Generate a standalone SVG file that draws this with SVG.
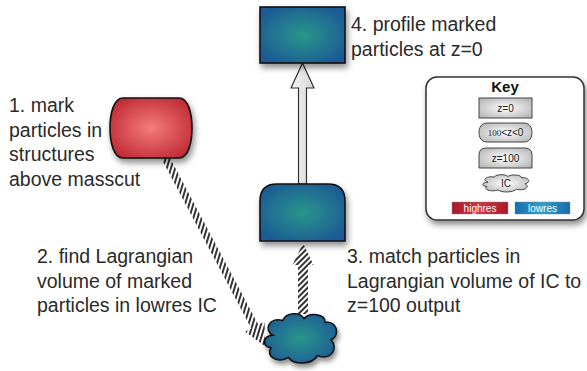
<svg xmlns="http://www.w3.org/2000/svg" width="587" height="371" viewBox="0 0 587 371">
<style>
.lbl{font-family:"Liberation Sans",Arial,sans-serif;font-size:19.5px;fill:#2a2a2a}
.klbl{font-family:"Liberation Sans",Arial,sans-serif;font-size:10px;fill:#222;text-anchor:middle}
.node{stroke:#111;stroke-width:1.6}
.blue{fill:url(#gBlue)}
.red{fill:url(#gRed)}
.kitem{fill:url(#gGray);stroke:#444;stroke-width:1}
</style>
<defs>
<radialGradient id="gBlue" cx="50%" cy="50%" r="60%">
<stop offset="0" stop-color="#2a968a"/>
<stop offset="1" stop-color="#1c5a96"/>
</radialGradient>
<radialGradient id="gRed" cx="50%" cy="50%" r="60%">
<stop offset="0" stop-color="#f47c7c"/>
<stop offset="1" stop-color="#c02a34"/>
</radialGradient>
<radialGradient id="gGray" cx="50%" cy="50%" r="65%">
<stop offset="0" stop-color="#ffffff"/>
<stop offset="1" stop-color="#b4b4b4"/>
</radialGradient>
<linearGradient id="gArrow" x1="0" y1="0" x2="1" y2="0">
<stop offset="0" stop-color="#f4f4f4"/>
<stop offset="1" stop-color="#d6d6d6"/>
</linearGradient>
<linearGradient id="gHigh" x1="0" y1="0" x2="1" y2="0">
<stop offset="0" stop-color="#a8182a"/>
<stop offset="0.5" stop-color="#d23444"/>
<stop offset="1" stop-color="#a8182a"/>
</linearGradient>
<linearGradient id="gLow" x1="0" y1="0" x2="1" y2="0">
<stop offset="0" stop-color="#1a6aac"/>
<stop offset="0.5" stop-color="#2aa2cc"/>
<stop offset="1" stop-color="#1a6aac"/>
</linearGradient>
<pattern id="hatch" width="4" height="4" patternUnits="userSpaceOnUse" patternTransform="rotate(45)">
<rect width="4" height="4" fill="#fff"/>
<rect width="2" height="4" fill="#333"/>
</pattern>
<filter id="sh" x="-20%" y="-20%" width="150%" height="160%">
<feDropShadow dx="2" dy="4" stdDeviation="3" flood-color="#000" flood-opacity="0.45"/>
</filter>
</defs>
<rect width="587" height="371" fill="#fff"/>

<g id="connectors">
<g transform="translate(165,157) rotate(-27.9)">
<polygon points="-4,0 4,0 4,192 11,192 0,214 -11,192 -4,192" fill="url(#hatch)"/>
</g>
<polygon points="298,314 308,314 308,265 313.5,265 303,243 292.5,265 298,265" fill="url(#hatch)"/>
<polygon points="298.5,184 306.5,184 306.5,88 314,88 302.5,63 291,88 298.5,88" fill="url(#gArrow)" stroke="#333" stroke-width="1.2" stroke-linejoin="miter"/>
</g>

<g id="node-mark">
<path class="node red" filter="url(#sh)" d="M 123,98 H 179 C 188,98 192,113 192,128 C 192,143 188,158 179,158 H 123 C 114,158 110,143 110,128 C 110,113 114,98 123,98 Z"/>
</g>
<g id="node-z0">
<rect class="node blue" filter="url(#sh)" x="260" y="7" width="85" height="56"/>
</g>
<g id="node-z100">
<path class="node blue" filter="url(#sh)" d="M 260,241 V 201 Q 260,184 277,184 H 328 Q 345,184 345,201 V 241 Z"/>
</g>
<g id="node-ic">
<path class="node blue" filter="url(#sh)" transform="translate(301,339) scale(0.97,0.97)" d="M -29,-4 C -39,-9 -33,-23 -19,-19 C -15,-28 -1,-28 3,-21 C 9,-28 25,-26 25,-17 C 37,-19 41,-4 31,1 C 39,9 31,23 17,17 C 11,27 -7,27 -13,19 C -23,25 -37,19 -31,9 C -41,7 -39,-3 -29,-4 Z"/>
</g>

<g id="labels">
<text class="lbl" x="9" y="112">1. mark</text>
<text class="lbl" x="9" y="137">particles in</text>
<text class="lbl" x="9" y="161">structures</text>
<text class="lbl" x="9" y="186">above masscut</text>
<text class="lbl" x="37" y="263">2. find Lagrangian</text>
<text class="lbl" x="37" y="288">volume of marked</text>
<text class="lbl" x="37" y="312">particles in lowres IC</text>
<text class="lbl" x="347" y="263">3. match particles in</text>
<text class="lbl" x="347" y="288">Lagrangian volume of IC to</text>
<text class="lbl" x="347" y="312">z=100 output</text>
<text class="lbl" x="351" y="31">4. profile marked</text>
<text class="lbl" x="351" y="56">particles at z=0</text>
</g>

<g id="key">
<rect x="426" y="77" width="158" height="143" rx="11" fill="#fff" stroke="#333" stroke-width="1.5" filter="url(#sh)"/>
<text x="505" y="92" text-anchor="middle" style="font-family:'Liberation Sans',Arial,sans-serif;font-size:15px;font-weight:bold;fill:#111">Key</text>
<rect class="kitem" x="479" y="98" width="53" height="20"/>
<text class="klbl" x="505.5" y="112">z=0</text>
<path class="kitem" d="M 487,123 H 524 C 530,123 532,128 532,132.5 C 532,137 530,142 524,142 H 487 C 481,142 479,137 479,132.5 C 479,128 481,123 487,123 Z"/>
<text class="klbl" x="505.5" y="136"><tspan style="font-family:'Liberation Serif',serif;font-size:9px">100</tspan>&lt;z&lt;0</text>
<path class="kitem" d="M 479,168 V 155 Q 479,148 486,148 H 525 Q 532,148 532,155 V 168 Z"/>
<text class="klbl" x="505.5" y="162">z=100</text>
<path class="kitem" d="M 488,182.1 C 481.8,180.4 485.5,175.7 494.2,177 C 496.7,174 505.4,174 507.9,176.4 C 511.6,174 521.5,174.7 521.5,177.7 C 528.9,177 531.4,182.1 525.2,183.8 C 530.2,186.6 525.2,191.3 516.5,189.3 C 512.8,192.7 501.7,192.7 497.9,190 C 491.7,192 483.1,190 486.8,186.6 C 480.6,185.9 481.8,182.5 488,182.1 Z"/>
<text class="klbl" x="506" y="187">IC</text>
<rect x="452" y="202" width="56" height="12" fill="url(#gHigh)" stroke="#888" stroke-width="0.5"/>
<text class="klbl" x="480" y="211.5" style="fill:#fff">highres</text>
<rect x="515" y="202" width="55" height="12" fill="url(#gLow)" stroke="#888" stroke-width="0.5"/>
<text class="klbl" x="542.5" y="211.5" style="fill:#fff">lowres</text>
</g>
</svg>
